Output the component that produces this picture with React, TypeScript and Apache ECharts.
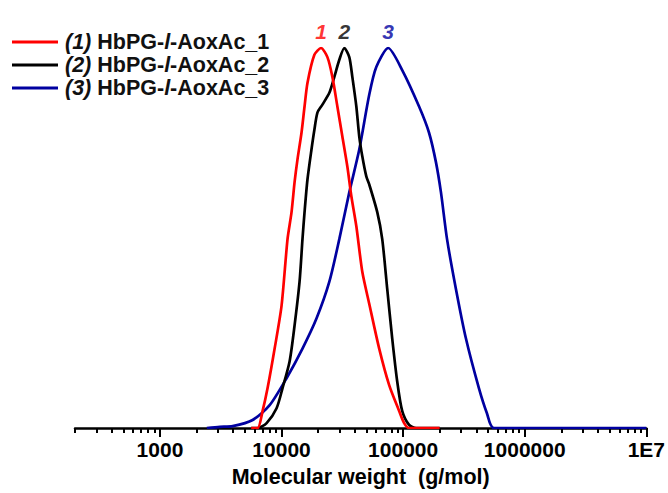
import React, { useEffect, useRef } from 'react';
import * as echarts from 'echarts';

// x values are log10(M / (g/mol)), y values are normalized detector signal
const RED_LOGM = [3.75, 3.803, 3.844, 3.885, 3.943, 4.0, 4.049, 4.082, 4.107, 4.131, 4.164, 4.189, 4.213, 4.27, 4.325, 4.377, 4.418, 4.459, 4.5, 4.541, 4.574, 4.615, 4.664, 4.721, 4.803, 4.885, 4.967, 5.008, 5.049, 5.3];
const RED_H = [0, 0, 0.045, 0.105, 0.209, 0.322, 0.497, 0.568, 0.647, 0.707, 0.777, 0.846, 0.908, 0.982, 1.0, 0.976, 0.924, 0.846, 0.767, 0.688, 0.61, 0.531, 0.411, 0.327, 0.209, 0.113, 0.045, 0.013, 0, 0];

const BLACK_LOGM = [3.75, 3.803, 3.877, 3.959, 4.008, 4.066, 4.107, 4.148, 4.172, 4.189, 4.213, 4.246, 4.27, 4.295, 4.336, 4.393, 4.434, 4.475, 4.516, 4.557, 4.582, 4.615, 4.639, 4.664, 4.697, 4.721, 4.787, 4.828, 4.869, 4.91, 4.951, 4.992, 5.049, 5.107, 5.3];
const BLACK_H = [0, 0, 0.013, 0.052, 0.105, 0.175, 0.27, 0.385, 0.497, 0.568, 0.654, 0.733, 0.785, 0.83, 0.851, 0.882, 0.924, 0.969, 1.0, 0.976, 0.924, 0.846, 0.767, 0.715, 0.662, 0.641, 0.568, 0.497, 0.366, 0.236, 0.123, 0.045, 0.008, 0, 0];

const BLUE_LOGM = [3.385, 3.492, 3.598, 3.762, 3.902, 4.041, 4.172, 4.287, 4.393, 4.475, 4.557, 4.639, 4.721, 4.779, 4.877, 4.992, 5.131, 5.213, 5.27, 5.311, 5.361, 5.434, 5.516, 5.623, 5.689, 5.746, 7.0];
const BLUE_H = [0, 0.003, 0.005, 0.021, 0.06, 0.131, 0.209, 0.288, 0.385, 0.497, 0.62, 0.733, 0.877, 0.95, 1.0, 0.942, 0.846, 0.777, 0.699, 0.62, 0.497, 0.366, 0.236, 0.105, 0.039, 0, 0];

const SERIES_NUM = ['(1)', '(2)', '(3)'];
const SERIES_SUFFIX = ['_1', '_2', '_3'];
const PEAK_LABELS = ['1', '2', '3'];
const COLORS = ['#ff0000', '#000000', '#0000a0'];

const MAJOR_TICKS = [3, 4, 5, 6, 7];
const TICK_LABELS = ['1000', '10000', '100000', '1000000', '1E7'];
const X_MIN_VALUE = 200;
const X_MAX_VALUE = 1e7;
const X_TITLE = 'Molecular weight  (g/mol)';

const FONT = '"Liberation Sans", Arial, sans-serif';

function seriesName(i: number) {
  return `${SERIES_NUM[i]} HbPG-l-AoxAc${SERIES_SUFFIX[i]}`;
}

function minorTicks(): number[] {
  const out: number[] = [];
  for (let k = 2; k < 7; k++) {
    for (let m = 2; m <= 9; m++) {
      const v = m * Math.pow(10, k);
      if (v >= X_MIN_VALUE && v < X_MAX_VALUE) out.push(Math.log10(v));
    }
  }
  return out;
}

export default function App() {
  const ref = useRef<HTMLDivElement>(null);
  useEffect(() => {
    if (!ref.current) return;
    const chart = echarts.init(ref.current, undefined, { renderer: 'svg' });
    const xs = [RED_LOGM, BLACK_LOGM, BLUE_LOGM];
    const ys = [RED_H, BLACK_H, BLUE_H];
    const xMin = Math.log10(X_MIN_VALUE);
    const xMax = Math.log10(X_MAX_VALUE);

    const lineSeries = xs.map((xArr, i) => ({
      name: seriesName(i),
      type: 'line',
      xAxisIndex: 0,
      yAxisIndex: 0,
      data: xArr.map((x, j) => [x, ys[i][j]]),
      showSymbol: false,
      symbol: 'none',
      smooth: 0.25,
      lineStyle: { color: COLORS[i], width: 2.7 },
      itemStyle: { color: COLORS[i] },
      z: 3 - i,
    }));

    const peakSeries = xs.map((xArr, i) => {
      let best = 0;
      ys[i].forEach((v, j) => { if (v > ys[i][best]) best = j; });
      return {
        name: 'peak' + i,
        type: 'scatter',
        data: [[xArr[best], ys[i][best]]],
        symbolSize: 0,
        silent: true,
        label: {
          show: true,
          position: 'top',
          distance: 6,
          formatter: PEAK_LABELS[i],
          color: COLORS[i],
          fontFamily: FONT,
          fontWeight: 'bold',
          fontStyle: 'italic',
          fontSize: 21,
        },
      };
    });

    const richBase = { fontFamily: FONT, fontWeight: 'bold', fontSize: 21.5, color: '#111', lineHeight: 22 };

    chart.setOption({
      animation: false,
      backgroundColor: '#ffffff',
      grid: { left: 75, right: 20, top: 48, bottom: 63, containLabel: false },
      legend: {
        data: [0, 1, 2].map((i) => seriesName(i)),
        orient: 'vertical',
        left: 12,
        top: 31,
        padding: 0,
        itemGap: 1,
        itemWidth: 46,
        itemHeight: 3,
        icon: 'rect',
        selectedMode: false,
        formatter: (name: string) => {
          const i = [0, 1, 2].find((k) => seriesName(k) === name) ?? 0;
          return `{i|${SERIES_NUM[i]}} {b|HbPG-}{i|l}{b|-AoxAc${SERIES_SUFFIX[i]}}`;
        },
        textStyle: {
          ...richBase,
          padding: [0, 0, 0, 2],
          rich: {
            i: { ...richBase, fontStyle: 'italic' },
            b: { ...richBase },
          },
        },
      },
      xAxis: [
        {
          type: 'value',
          min: xMin,
          max: xMax,
          position: 'bottom',
          axisLine: { show: true, onZero: false, lineStyle: { color: '#000', width: 2.5 } },
          axisTick: { show: true, length: 9, lineStyle: { color: '#000', width: 2 }, customValues: MAJOR_TICKS },
          axisLabel: {
            show: true,
            customValues: MAJOR_TICKS,
            formatter: (v: number) => {
              const idx = MAJOR_TICKS.findIndex((t) => Math.abs(t - v) < 1e-6);
              return idx >= 0 ? TICK_LABELS[idx] : '';
            },
            margin: 11,
            color: '#000',
            fontFamily: FONT,
            fontWeight: 'bold',
            fontSize: 21,
          },
          splitLine: { show: false },
          name: X_TITLE,
          nameLocation: 'middle',
          nameGap: 38,
          nameTextStyle: { color: '#000', fontFamily: FONT, fontWeight: 'bold', fontSize: 21.5 },
        },
        {
          type: 'value',
          min: xMin,
          max: xMax,
          position: 'bottom',
          offset: 0,
          axisLine: { show: false },
          axisTick: { show: true, length: 5, lineStyle: { color: '#000', width: 2 }, customValues: minorTicks() },
          axisLabel: { show: false },
          splitLine: { show: false },
        },
      ],
      yAxis: {
        type: 'value',
        min: 0,
        max: 1,
        show: false,
      },
      series: [...lineSeries, ...peakSeries],
    });
    return () => chart.dispose();
  }, []);
  return <div ref={ref} style={{ position: 'fixed', left: 0, top: 0, width: 668, height: 493 }} />;
}
